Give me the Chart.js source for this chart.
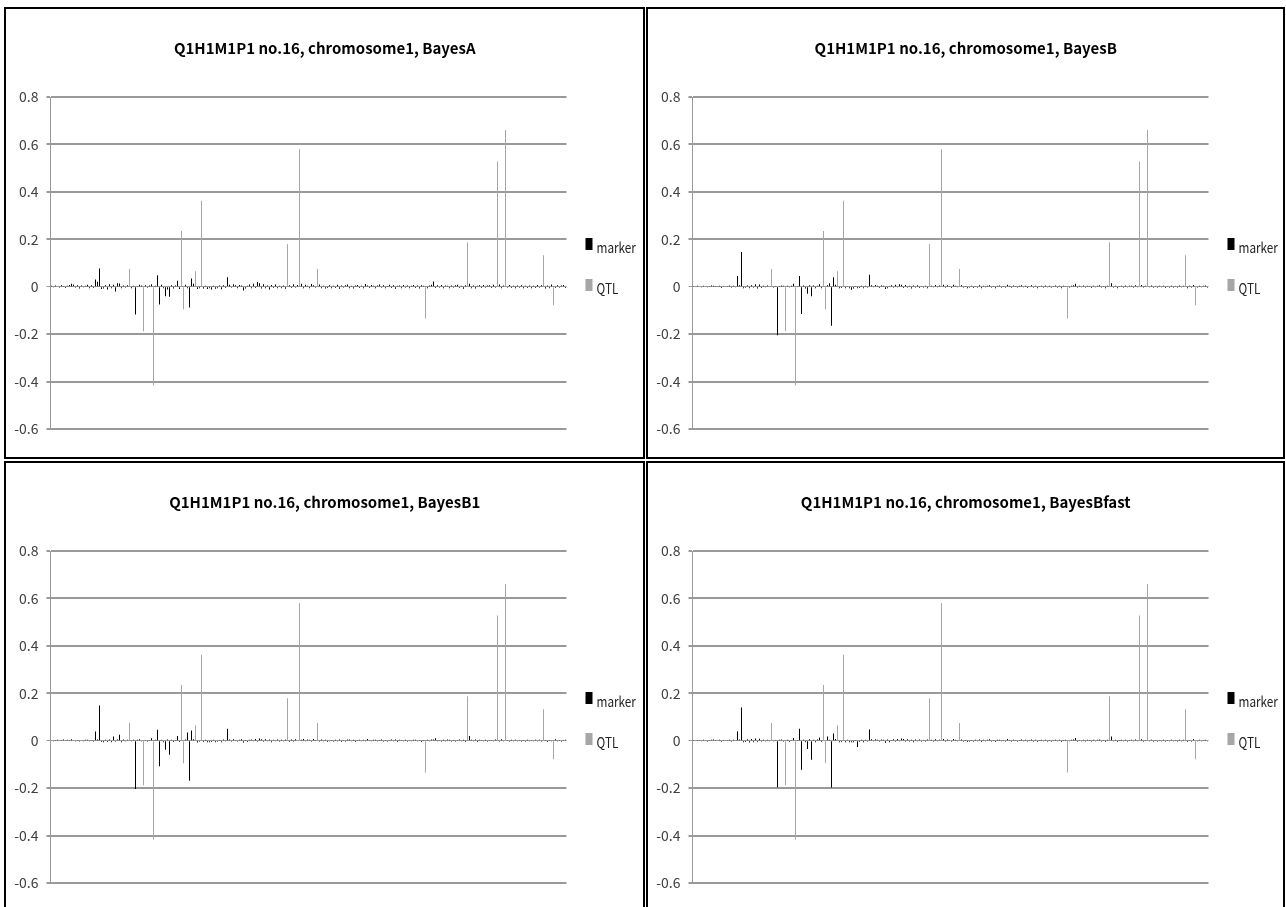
<!DOCTYPE html>
<html>
<head>
<meta charset="utf-8">
<script src="https://cdn.jsdelivr.net/npm/chart.js@4.4.1/dist/chart.umd.min.js"></script>
<style>
body { margin: 0; background: #fff; width: 1286px; height: 907px; overflow: hidden; position: relative; }
.panel { position: absolute; border: 2px solid #000; box-sizing: border-box; background: #fff; }
.panel canvas { display: block; }
</style>
</head>
<body>
<div class="panel" style="left:4px;top:7px;width:641px;height:452px"><canvas id="c1" width="637" height="448"></canvas></div>
<div class="panel" style="left:646px;top:7px;width:639px;height:452px"><canvas id="c2" width="635" height="448"></canvas></div>
<div class="panel" style="left:4px;top:461px;width:641px;height:452px"><canvas id="c3" width="637" height="448"></canvas></div>
<div class="panel" style="left:646px;top:461px;width:639px;height:452px"><canvas id="c4" width="635" height="448"></canvas></div>
<script>
// marker positions along chromosome 1 (258 slots)
let positions = Array.from({length: 258}, (_, i) => String(i + 1));

// QTL (true effects, same in every panel)
let qtlPos    = [39, 46, 51, 65, 66, 72, 75, 118, 124, 133, 187, 208, 223, 227, 246, 251];
let qtlEffect = [0.075, -0.188, -0.417, 0.235, -0.095, 0.065, 0.362, 0.179, 0.58, 0.075, -0.134, 0.187, 0.528, 0.661, 0.133, -0.078];

let yTickLabels = ['-0.6', '-0.4', '-0.2', '0', '0.2', '0.4', '0.6', '0.8'];

// estimated marker effects
let markerBayesA = [
  .004,-.003,.005,.002,-.004,.006,.003,-.005,.004,.007,.012,.009,-.004,.006,-.008,.005,-.003,.004,.008,-.006,
  .006,-.005,.03,.021,.077,-.01,-.008,.006,-.012,.01,-.006,.008,-.02,.015,.014,-.007,.005,-.004,.006,null,
  -.006,.004,-.117,.003,.008,.005,null,.006,-.004,.005,.01,null,.004,.048,-.075,.008,-.006,-.04,-.012,-.042,
  .006,-.008,.005,.025,-.01,null,null,.008,-.006,-.088,.035,.012,null,-.01,-.006,null,-.008,.004,-.01,-.006,
  -.012,.004,-.009,-.007,.005,-.011,.006,-.005,.04,.008,-.004,.01,.006,-.006,.007,.005,-.016,-.008,.004,.009,
  -.006,.012,-.005,.02,.015,-.008,.01,-.006,.005,-.012,.007,-.005,.009,-.007,.004,-.006,.005,-.009,null,.006,
  -.005,.01,-.004,.007,null,.012,-.006,.008,.004,-.007,.011,.006,-.004,null,.009,-.006,.004,-.008,-.005,.006,
  -.007,.004,-.005,.008,-.009,.005,-.004,.006,.009,-.006,.004,-.008,.005,.007,-.005,.004,-.006,.011,.005,-.005,
  .007,.004,-.006,.005,.009,-.004,.006,-.007,.003,.008,-.005,.006,-.009,.004,.005,-.006,.007,-.004,.005,-.006,
  .004,.007,-.005,.005,-.008,.006,.004,null,-.006,.005,.008,.022,-.005,.006,-.004,.007,-.006,.005,.004,-.007,
  .005,-.004,.006,.008,-.005,.004,-.009,.006,null,.012,-.006,.005,-.008,.004,.006,-.005,.007,-.004,.005,.006,
  -.005,.008,-.004,null,.009,-.006,.005,null,-.004,.007,-.005,.004,-.006,.005,-.004,.006,-.007,.004,-.005,.005,
  -.006,.004,-.005,.007,-.004,.006,null,-.008,.005,-.006,.009,null,-.005,.006,-.004,.005,.007,-.005
];
let markerBayesB = [
  .003,-.002,.004,.002,-.003,.004,.002,-.003,.003,.005,.004,.003,-.002,.004,-.005,.003,-.002,.003,.005,-.004,
  .004,-.003,.045,.006,.146,-.006,-.004,.005,-.007,.006,-.004,.01,-.008,.009,-.005,.004,-.003,.005,-.002,null,
  -.004,.003,-.205,.003,.005,.004,null,.004,-.003,.004,.012,null,.003,.045,-.115,.005,-.008,-.03,.006,-.04,
  .005,-.006,.004,.01,-.006,null,null,.006,.015,-.165,.04,.008,null,-.007,-.005,null,-.006,.003,-.007,-.013,
  -.008,.003,-.006,-.005,.004,-.007,.004,-.004,.05,.006,-.003,.007,.004,-.005,.005,.004,-.01,-.006,.003,.006,
  -.004,.008,-.003,.01,.008,-.005,.007,-.004,.004,-.008,.005,-.004,.006,-.005,.003,-.004,.004,-.006,null,.004,
  -.003,.007,-.003,.005,null,.008,-.004,.006,.003,-.005,.008,.004,-.003,null,.006,-.004,.003,-.006,-.004,.004,
  -.005,.003,-.004,.006,-.006,.004,-.003,.004,.006,-.004,.003,-.006,.004,.005,-.004,.003,-.004,.008,.004,-.004,
  .005,.003,-.004,.004,.006,-.003,.004,-.005,.002,.006,-.004,.004,-.006,.003,.004,-.004,.005,-.003,.004,-.004,
  .003,.005,-.004,.004,-.006,.004,.003,null,-.004,.004,.006,.012,-.004,.004,-.003,.005,-.004,.004,.003,-.005,
  .004,-.003,.004,.006,-.004,.003,-.006,.004,null,.015,-.004,.004,-.006,.003,.004,-.004,.005,-.003,.004,.004,
  -.004,.006,-.003,null,.007,-.004,.004,null,-.003,.005,-.004,.003,-.004,.004,-.003,.004,-.005,.003,-.004,.004,
  -.004,.003,-.004,.005,-.003,.004,null,-.006,.004,-.004,.007,null,-.004,.004,-.003,.004,.005,-.004
];
let markerBayesB1 = [
  .002,-.003,.003,.004,-.002,.003,.005,-.002,.004,.003,.006,.002,-.003,.003,-.004,.002,-.003,.004,.004,-.003,
  .003,-.004,.039,.005,.148,-.005,-.006,.004,-.005,.005,-.006,.018,-.004,.005,.025,-.006,.005,-.003,.004,null,
  -.003,.004,-.204,.004,.006,-.003,null,.003,-.004,.003,.01,null,.004,.046,-.108,.004,-.006,-.038,.005,-.059,
  .004,-.005,.003,.02,-.005,null,null,.005,.035,-.169,.043,.006,null,-.008,-.004,null,-.005,.004,-.006,-.006,
  -.005,.004,-.007,-.004,.003,-.006,.005,-.003,.05,.005,-.004,.006,.003,-.004,.004,.006,-.008,.003,-.005,.004,
  .005,-.003,.007,-.004,.009,.006,-.004,.006,-.003,.005,-.006,.004,-.003,.005,-.004,.004,-.003,.005,null,-.005,
  .005,-.004,.006,-.002,null,.004,.007,-.003,.005,.004,-.004,.007,.003,null,-.004,.005,-.003,.004,-.005,-.003,
  .003,-.004,.004,-.003,.005,-.005,.003,-.004,.005,.005,-.003,.004,-.005,.003,.004,-.003,.004,-.003,.007,.003,
  -.003,.004,.004,-.003,.003,.005,-.004,.003,-.004,.003,.005,-.003,.005,-.005,.004,.003,-.003,.004,-.004,.003,
  -.003,.004,.004,-.003,.003,-.005,.003,null,.004,-.003,.005,.005,.01,-.003,.003,-.004,.004,-.003,.005,.004,
  -.004,.003,-.004,.003,.005,-.003,.004,-.005,null,.02,.004,-.003,.005,-.005,.004,.003,-.003,.004,-.004,.003,
  .003,-.003,.005,null,-.004,.006,-.003,null,.003,-.004,.004,-.003,.004,-.003,.003,-.004,.003,-.004,.004,-.003,
  .003,-.003,.004,-.003,.004,-.004,null,.003,-.005,.003,-.003,null,.006,-.003,.003,-.004,.003,.004
];
let markerBayesBfast = [
  .003,-.002,.003,.003,-.003,.004,.002,-.004,.003,.004,.005,.003,-.002,.004,-.004,.003,-.002,.003,.004,-.004,
  .004,-.002,.04,.005,.14,-.006,-.005,.006,-.008,.007,-.006,.009,-.005,.008,-.004,.004,-.003,.004,-.003,null,
  -.003,.003,-.196,.004,.005,-.004,null,.004,-.005,.003,.011,null,.003,.05,-.122,.004,-.007,-.035,.006,-.08,
  .004,-.006,.005,.014,-.005,null,null,.018,.004,-.197,.03,.007,null,-.007,-.005,null,-.006,.004,-.006,-.007,
  -.006,.003,-.027,-.005,.004,-.006,.004,-.004,.047,.006,-.003,.006,.004,-.004,.005,.004,-.009,.005,-.006,.003,
  .006,-.004,.007,-.003,.009,.007,-.004,.006,-.004,.004,-.007,.005,-.003,.005,-.004,.003,-.004,.005,null,.004,
  -.004,.006,-.003,.004,null,.007,-.004,.005,.003,-.004,.007,.004,-.003,null,.005,-.004,.003,-.005,-.004,.003,
  -.004,.004,-.003,.005,-.005,.004,-.003,.004,.006,-.004,.003,-.005,.004,.004,-.003,.003,-.004,.007,.003,-.004,
  .004,.003,-.004,.003,.005,-.003,.004,-.004,.003,.005,-.004,.004,-.005,.003,.004,-.003,.004,-.004,.003,-.004,
  .003,.004,-.003,.004,-.005,.003,.004,null,-.003,.004,.005,.011,-.004,.003,-.003,.004,-.004,.004,.003,-.004,
  .004,-.003,.004,.005,-.004,.003,-.005,.004,null,.018,-.003,.004,-.005,.003,.004,-.003,.004,-.004,.003,.004,
  -.003,.005,-.003,null,.006,-.004,.003,null,-.003,.004,-.004,.003,-.004,.003,-.003,.004,-.004,.003,-.003,.004,
  -.003,.003,-.004,.004,-.003,.004,null,-.005,.003,-.004,.006,null,-.003,.004,-.003,.003,.004,-.003
];

let qtlSeries = positions.map(() => null);
qtlPos.forEach((p, k) => { qtlSeries[p] = qtlEffect[k]; });

const FONT = '"Noto Sans CJK KR", "Noto Sans", sans-serif';

// legend drawn to the right of the plot, like the Excel one (narrow text)
const sideLegend = {
  id: 'sideLegend',
  afterDraw(chart) {
    const {ctx, chartArea} = chart;
    ctx.save();
    ctx.font = '14px ' + FONT;
    ctx.textBaseline = 'alphabetic';
    chart.data.datasets.forEach((ds, i) => {
      const x = chartArea.right + 19;
      const y = chartArea.top + 141 + i * 41;
      ctx.fillStyle = ds.backgroundColor;
      ctx.fillRect(x, y, 7, 12);
      ctx.fillStyle = '#222';
      ctx.save();
      ctx.translate(x + 11, y + 15);
      ctx.scale(0.84, 1);
      ctx.fillText(ds.label, 0, 0);
      ctx.restore();
    });
    ctx.restore();
  }
};

function makeChart(id, title, markers) {
  let el = document.getElementById(id);
  let plotW = 516;
  new Chart(el, {
    type: 'bar',
    data: {
      labels: positions,
      datasets: [
        { label: 'marker', data: markers, backgroundColor: '#000000', maxBarThickness: 1, grouped: false, order: 1 },
        { label: 'QTL', data: qtlSeries, backgroundColor: '#a6a6a6', maxBarThickness: 1, grouped: false, order: 2 }
      ]
    },
    options: {
      responsive: false,
      animation: false,
      layout: { padding: { left: 0.5, right: 0, top: 0, bottom: 28 } },
      plugins: {
        legend: { display: false },
        tooltip: { enabled: false },
        title: {
          display: true,
          text: title,
          color: '#000',
          font: { family: FONT, size: 15, weight: 'bold' },
          padding: { top: 30, bottom: 40 }
        }
      },
      scales: {
        x: { display: false },
        y: {
          min: -0.6,
          max: 0.8,
          afterFit(s) { s.width = 44; },
          ticks: {
            stepSize: 0.2,
            padding: 8,
            color: '#404040',
            font: { family: FONT, size: 14 },
            callback: (v, i) => yTickLabels[i]
          },
          grid: {
            color: '#999',
            lineWidth: c => (c.tick && Math.abs(c.tick.value) < 1e-9) ? 1 : 2,
            tickLength: 4
          },
          border: { color: '#999', width: 1 }
        },
        // empty strip on the right where the legend sits
        legendGap: {
          type: 'linear',
          axis: 'y',
          position: 'right',
          display: true,
          afterFit(s) { s.width = el.width - 44.5 - plotW; },
          ticks: { display: false },
          grid: { display: false, drawTicks: false },
          border: { display: false }
        }
      }
    },
    plugins: [sideLegend]
  });
}

makeChart('c1', 'Q1H1M1P1 no.16, chromosome1, BayesA', markerBayesA);
makeChart('c2', 'Q1H1M1P1 no.16, chromosome1, BayesB', markerBayesB);
makeChart('c3', 'Q1H1M1P1 no.16, chromosome1, BayesB1', markerBayesB1);
makeChart('c4', 'Q1H1M1P1 no.16, chromosome1, BayesBfast', markerBayesBfast);
</script>
</body>
</html>
